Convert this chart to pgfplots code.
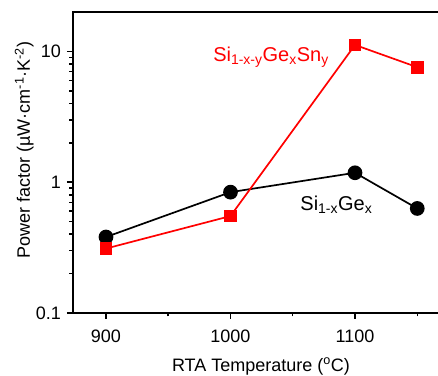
\documentclass[border=0pt]{standalone}
\usepackage{pgfplots}
\pgfplotsset{compat=1.18}
\usepackage{fontspec}
\setmainfont{Liberation Sans}
\begin{document}
\fontsize{18bp}{21bp}\selectfont
\begin{tikzpicture}
\begin{axis}[
  at={(0,0)}, anchor=south west,
  scale only axis, width=376bp, height=301bp,
  xmin=873.5, xmax=1175.5,
  ymode=log, ymin=0.1, ymax=20,
  axis line style={line width=1.8bp},
  xtick={900,1000,1100}, minor xtick={950,1050,1150},
  xticklabels={900,1000,1100},
  ytick={0.1,1,10}, yticklabels={0.1,1,10},
  minor ytick={0.2,0.3,0.4,0.5,0.6,0.7,0.8,0.9,2,3,4,5,6,7,8,9},
  tick align=outside, xtick pos=bottom, ytick pos=left,
  major tick length=6bp, minor tick length=3.5bp,
  every tick/.style={black, line width=1.5bp},
  /pgf/number format/assume math mode=true,
  ticklabel style={font=\fontsize{18bp}{21bp}\selectfont},
  xticklabel style={yshift=-5bp},
  every axis y label/.style={at={(axis description cs:-0.13,0.5415)}, rotate=90, anchor=center, font=\fontsize{18bp}{21bp}\selectfont},
  every axis x label/.style={at={(axis description cs:0.5,-0.1927)}, anchor=base, font=\fontsize{18bp}{21bp}\selectfont},
  xlabel={RTA Temperature (\textsuperscript{o}C)},
  ylabel={Power factor (µW·cm\textsuperscript{-1}·K\textsuperscript{-2})},
  clip=false,
]
\addplot[black, line width=1.7bp, mark=*, mark size=6.5bp, mark options={solid, fill=black}]
  coordinates {(900,0.381) (1000,0.839) (1100,1.18) (1150,0.63)};
\addplot[red, line width=1.7bp, mark=square*, mark size=5.5bp, mark options={solid, fill=red}]
  coordinates {(900,0.311) (1000,0.551) (1100,11.2) (1150,7.57)};
\node[red, anchor=west, inner sep=0pt, font=\fontsize{20bp}{24bp}\selectfont] at (axis cs:986,9.06) {Si\textsubscript{1-x-y}Ge\textsubscript{x}Sn\textsubscript{y}};
\node[black, anchor=west, inner sep=0pt, font=\fontsize{20bp}{24bp}\selectfont] at (axis cs:1056,0.676) {Si\textsubscript{1-x}Ge\textsubscript{x}};
\end{axis}
\pgfresetboundingbox
\useasboundingbox (-73bp,-63bp) rectangle (365bp,313bp);
\end{tikzpicture}
\end{document}
